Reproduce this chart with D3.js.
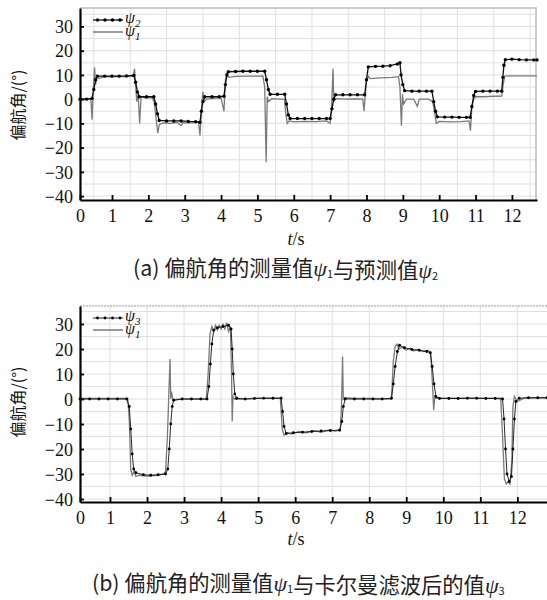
<!DOCTYPE html>
<html>
<head>
<meta charset="utf-8">
<script src="https://cdn.jsdelivr.net/npm/d3@7/dist/d3.min.js"></script>
<style>
  html, body { margin: 0; padding: 0; background: #fff; }
  svg { display: block; }
</style>
</head>
<body>
<script>
// ---- data ----
var yTicks = [-40, -30, -20, -10, 0, 10, 20, 30];
var xTicks = [0, 1, 2, 3, 4, 5, 6, 7, 8, 9, 10, 11, 12];
var SERIF = "'Liberation Serif', 'Times New Roman', Tinos, 'DejaVu Serif', 'Noto Serif', serif";

// (a) predicted psi2, [t, deg]
var psi2Top = [[0.12,0],[0.3,0],[0.45,0.3],[0.5,4],[0.55,8],[0.6,9.5],[0.8,9.5],[1.0,9.5],[1.2,9.5],[1.4,9.6],[1.6,9.8],
    [1.65,7],[1.7,3],[1.75,1],[1.95,1],[2.15,1],[2.2,-2],[2.25,-6],[2.3,-8.8],[2.5,-9],[2.7,-9],[2.9,-9],[3.1,-9.2],[3.3,-9.3],[3.42,-9.5],
    [3.46,-5],[3.5,-1],[3.55,1],[3.75,1],[3.95,1],[4.08,1.2],[4.12,6],[4.16,10],[4.2,11.3],[4.4,11.4],[4.6,11.5],[4.8,11.5],[5.0,11.5],[5.2,11.5],
    [5.25,8],[5.3,4],[5.35,2],[5.55,2],[5.75,2],[5.8,-2],[5.85,-6.5],[5.9,-8],[6.1,-8],[6.3,-8],[6.5,-8],[6.7,-8],[6.9,-8],[7.0,-8],
    [7.05,-4],[7.1,0],[7.15,1.8],[7.35,1.8],[7.55,1.8],[7.75,1.8],[7.95,1.8],[8.0,8],[8.05,13.3],[8.25,13.5],[8.45,13.6],[8.65,13.8],[8.85,14.5],[8.92,15],
    [8.95,10],[9.0,6],[9.05,3.5],[9.25,3.3],[9.45,3.3],[9.65,3.3],[9.8,3.3],[9.85,-1],[9.9,-5],[9.95,-7.3],[10.15,-7.4],[10.35,-7.4],[10.55,-7.5],[10.75,-7.5],[10.85,-7.5],
    [10.9,-3],[10.95,1.5],[11.0,3.2],[11.2,3.3],[11.4,3.3],[11.6,3.3],[11.72,3.3],[11.75,9],[11.78,14],[11.82,16.3],[12.0,16.5],[12.2,16.3],[12.4,16.2],[12.6,16.2],[12.69,16.2]];

// (a) measured psi1
var psi1Top = [[0.12,0],[0.42,0],[0.45,-8.5],[0.48,2],[0.52,13],[0.55,6],[0.58,10],[0.62,8.5],[0.8,9.3],[1.0,9.2],[1.2,9.4],[1.4,9.3],[1.58,9.5],
    [1.62,12.5],[1.65,6],[1.68,-1],[1.72,2],[1.76,-10],[1.8,1],[1.9,0.5],[2.1,0.5],[2.16,-1],[2.22,-9],[2.26,-14],[2.3,-10.5],[2.4,-9.8],[2.6,-10],
    [2.8,-9.6],[2.9,-11],[2.95,-9.7],[3.2,-9.8],[3.38,-9.5],[3.42,-15],[3.46,-4],[3.5,3],[3.53,-1],[3.6,0],[3.8,0.3],[4.0,0.5],[4.08,-5],[4.12,8],
    [4.16,10.5],[4.2,9],[4.4,9.4],[4.7,9.5],[5.0,9.5],[5.15,9.6],[5.2,5],[5.24,-26],[5.27,1],[5.3,-1],[5.4,0.2],[5.6,0],[5.74,0],[5.78,-6],[5.82,-10],
    [5.87,-9],[6.0,-9.4],[6.3,-9.2],[6.6,-9.3],[6.9,-9],[7.0,-10],[7.04,-3],[7.08,12.5],[7.1,-1],[7.14,0.2],[7.4,0],[7.7,0.1],[7.9,0],[7.93,-5],
    [7.97,2],[8.0,7],[8.05,9.5],[8.1,8.5],[8.4,8.8],[8.7,9],[8.88,9.3],[8.92,5],[8.96,-11],[8.99,2],[9.02,-2],[9.1,0],[9.3,0],[9.4,-3],[9.45,0],
    [9.7,0],[9.82,-1],[9.88,-6],[9.92,-10],[10.0,-9.2],[10.3,-9.4],[10.6,-9.3],[10.82,-9],[10.86,-13],[10.9,-3],[10.95,0],[11.0,1],[11.2,1],
    [11.5,1.2],[11.72,1.3],[11.76,6],[11.8,9.5],[12.0,9.6],[12.3,9.6],[12.69,9.6]];

// (b) Kalman filtered psi3
var psi3Bot = [[0.19,0],[0.45,0],[0.7,0],[0.95,0],[1.2,0],[1.45,0],[1.52,-3],[1.56,-12],[1.6,-22],[1.64,-28],[1.7,-29.5],[1.9,-30.3],[2.1,-30.5],
    [2.3,-30.3],[2.5,-30],[2.56,-28],[2.6,-20],[2.64,-10],[2.68,-3],[2.72,-0.5],[2.95,0],[3.2,0],[3.45,0],[3.62,0],[3.67,5],[3.71,14],[3.75,22],
    [3.8,27.5],[3.9,28.5],[4.05,29],[4.2,29.5],[4.27,28],[4.3,20],[4.33,10],[4.37,2],[4.42,0.3],[4.65,0],[4.9,0.2],[5.15,0.3],[5.4,0.3],[5.62,0.3],
    [5.66,-5],[5.7,-11],[5.76,-13.8],[5.95,-13.5],[6.2,-13.3],[6.45,-13],[6.7,-12.8],[6.95,-12.6],[7.2,-12.5],[7.26,-9],[7.3,-3],[7.35,0],[7.6,0],
    [7.85,0],[8.1,0],[8.35,0],[8.6,0.3],[8.65,6],[8.7,13],[8.76,19],[8.82,21.5],[8.95,20.5],[9.15,19.8],[9.35,19.5],[9.55,19],[9.65,18.5],[9.7,13],
    [9.75,6],[9.8,1],[9.9,0.2],[10.15,0.2],[10.4,0.2],[10.65,0.3],[10.9,0.3],[11.15,0.2],[11.4,0.2],[11.6,0],[11.64,-8],[11.68,-20],[11.72,-30],
    [11.78,-33],[11.84,-31],[11.88,-20],[11.92,-8],[11.96,-1],[12.05,0.3],[12.3,0.5],[12.55,0.5],[12.8,0.5]];

// (b) measured psi1
var psi1Bot = [[0.19,0.2],[1.48,0.2],[1.52,-8],[1.56,-28],[1.6,-30.5],[1.65,-29],[1.7,-31],[1.8,-30.5],[2.0,-30.8],[2.3,-30.5],[2.45,-30],
    [2.5,-29],[2.55,-15],[2.58,-2],[2.62,16],[2.64,0],[2.66,3],[2.7,-0.3],[3.0,0],[3.3,0],[3.6,0],[3.65,10],[3.7,26],[3.75,29],[3.8,27],[3.85,29.5],
    [3.9,27.5],[3.95,29.5],[4.0,28],[4.05,30],[4.1,28],[4.15,30.5],[4.2,27],[4.25,29],[4.28,12],[4.3,-9],[4.32,1],[4.36,0],[4.6,0],[5.0,0.3],
    [5.6,0.3],[5.65,-12],[5.7,-14.5],[5.8,-13.5],[5.9,-14],[6.1,-13],[6.3,-13.5],[6.5,-12.7],[6.7,-13.2],[6.9,-12.5],[7.1,-12.8],[7.22,-12],
    [7.25,-3],[7.28,17],[7.3,0],[7.34,0.5],[7.6,0.2],[8.0,0.2],[8.6,0],[8.65,15],[8.7,21],[8.75,22],[8.8,20],[8.9,20.8],[9.0,19.5],[9.1,20.3],
    [9.2,19.2],[9.3,19.8],[9.45,19],[9.6,19.4],[9.66,18],[9.7,8],[9.74,-4.5],[9.77,1],[9.8,0.3],[10.2,0.3],[11.0,0.3],[11.55,0.3],[11.6,-15],
    [11.65,-32],[11.7,-34],[11.75,-33],[11.8,-34],[11.85,-25],[11.88,-3],[11.92,1],[12.0,-1],[12.2,0.4],[12.8,0.5]];

var svg = d3.select("body").append("svg")
            .attr("width", 547)
            .attr("height", 600);

function drawPanel(cfg) {
    var x = d3.scaleLinear().domain(cfg.xDomain).range(cfg.xRange),
        y = d3.scaleLinear().domain(cfg.yDomain).range(cfg.yRange),
        g = svg.append("g");

    // grid
    g.selectAll(".hgrid")
     .data(d3.range(-40, 36, 5))
     .enter().append("line")
     .attr("x1", cfg.xRange[0]).attr("x2", cfg.xRange[1])
     .attr("y1", function(d) { return y(d); })
     .attr("y2", function(d) { return y(d); })
     .style("stroke", "#e0e0e0").style("stroke-width", 1);

    g.selectAll(".vgrid")
     .data(cfg.vGrid)
     .enter().append("line")
     .attr("x1", function(d) { return x(d); })
     .attr("x2", function(d) { return x(d); })
     .attr("y1", cfg.yRange[0]).attr("y2", cfg.yRange[1])
     .style("stroke", "#e0e0e0").style("stroke-width", 1);

    // frame top / right
    g.append("line")
     .attr("x1", cfg.xRange[0]).attr("x2", cfg.xRange[1])
     .attr("y1", cfg.yRange[1]).attr("y2", cfg.yRange[1])
     .style("stroke", "#bbb").style("stroke-width", 1.5)
     .style("stroke-dasharray", cfg.dashedTop ? "2,1" : null);
    if (cfg.rightFrame) {
        g.append("line")
         .attr("x1", cfg.xRange[1] - 1).attr("x2", cfg.xRange[1] - 1)
         .attr("y1", cfg.yRange[0]).attr("y2", cfg.yRange[1])
         .style("stroke", "#bbb").style("stroke-width", 1.5);
    }

    var line = d3.line()
                 .x(function(d) { return x(d[0]); })
                 .y(function(d) { return y(d[1]); });

    g.append("path")
     .datum(cfg.measured)
     .attr("d", line)
     .style("fill", "none")
     .style("stroke", "#7a7a7a")
     .style("stroke-width", 1.3);

    g.append("path")
     .datum(cfg.estimate)
     .attr("d", line)
     .style("fill", "none")
     .style("stroke", "#111")
     .style("stroke-width", cfg.estWidth);

    g.selectAll(".dot")
     .data(cfg.estimate)
     .enter().append("circle")
     .attr("cx", function(d) { return x(d[0]); })
     .attr("cy", function(d) { return y(d[1]); })
     .attr("r", cfg.dotR)
     .style("fill", "#000");

    // axes
    var yAxis = d3.axisLeft(y).tickValues(yTicks).tickSizeInner(-4).tickSizeOuter(0).tickPadding(7);
    var xAxis = d3.axisBottom(x)
                  .tickValues(xTicks.map(function(d) { return d === 0 ? cfg.xDomain[0] : d; }))
                  .tickFormat(function(d) { return d < 1 ? "0" : d; })
                  .tickSizeInner(-5).tickSizeOuter(0).tickPadding(9);

    var ya = g.append("g")
              .attr("transform", "translate(" + cfg.xRange[0] + ",0)")
              .call(yAxis);
    var xa = g.append("g")
              .attr("transform", "translate(0," + cfg.yRange[0] + ")")
              .call(xAxis);
    [ya, xa].forEach(function(a) {
        a.attr("font-family", null).attr("font-size", null);
        a.select(".domain").style("stroke", "#000").style("stroke-width", 2.2);
        a.selectAll(".tick line").style("stroke", "#000").style("stroke-width", 1.8);
        a.selectAll(".tick text")
         .style("font-family", SERIF)
         .style("font-size", "18px")
         .style("fill", "#111");
    });
    ya.selectAll(".tick text").attr("dy", "0.34em");

    // axis titles
    g.append("text")
     .attr("transform", "translate(24," + cfg.yTitleY + ") rotate(-90)")
     .attr("text-anchor", "middle")
     .style("font-family", "'Noto Sans CJK SC', sans-serif")
     .style("font-size", "16px")
     .style("fill", "#111")
     .text("偏航角/(°)");

    var xt = g.append("text")
              .attr("x", 296)
              .attr("y", cfg.xTitleY)
              .attr("text-anchor", "middle")
              .style("font-family", SERIF)
              .style("font-size", "18px")
              .style("fill", "#111");
    xt.append("tspan").style("font-style", "italic").text("t");
    xt.append("tspan").text("/s");

    // legend
    var lx0 = 93, lx1 = 123,
        ly = cfg.yRange[1] + 12;
    g.append("line")
     .attr("x1", lx0).attr("x2", lx1).attr("y1", ly).attr("y2", ly)
     .style("stroke", "#111").style("stroke-width", cfg.estWidth);
    g.selectAll(".ldot")
     .data([0.15, 0.4, 0.65, 0.9])
     .enter().append("circle")
     .attr("cx", function(d) { return lx0 + d * (lx1 - lx0); })
     .attr("cy", ly)
     .attr("r", cfg.dotR)
     .style("fill", "#000");
    g.append("line")
     .attr("x1", lx0).attr("x2", lx1).attr("y1", ly + 12).attr("y2", ly + 12)
     .style("stroke", "#7a7a7a").style("stroke-width", 1.5);

    [[cfg.estSub, ly + 3], ["1", ly + 16]].forEach(function(p) {
        var t = g.append("text")
                 .attr("x", 125)
                 .attr("y", p[1])
                 .style("font-family", SERIF)
                 .style("font-style", "italic")
                 .style("font-size", "16px")
                 .style("fill", "#111");
        t.append("tspan").text("ψ");
        t.append("tspan").attr("dy", 4).style("font-size", "11px").text(p[0]);
    });

    // caption
    var cap = g.append("text")
               .attr("x", cfg.capX)
               .attr("y", cfg.capY)
               .style("font-family", "'Noto Sans CJK SC', sans-serif")
               .style("font-size", "21.3px")
               .style("fill", "#222");
    cfg.caption.forEach(function(part) {
        if (part[0] === "psi") {
            cap.append("tspan")
               .style("font-family", SERIF)
               .style("font-style", "italic")
               .style("font-size", "22px")
               .text("ψ");
            cap.append("tspan")
               .attr("dy", 2)
               .style("font-size", "11px")
               .text(part[1]);
            cap.append("tspan").attr("dy", -2).text("");
        } else {
            cap.append("tspan").text(part[1]);
        }
    });
}

drawPanel({
    xDomain: [0.12, 12.69], xRange: [80, 537],
    yDomain: [-41.6, 37.6], yRange: [200, 8],
    vGrid: d3.range(0.5, 12.6, 1),
    rightFrame: true, dashedTop: false,
    measured: psi1Top, estimate: psi2Top,
    estWidth: 1.3, dotR: 1.7, estSub: "2",
    yTitleY: 105, xTitleY: 245,
    capX: 133, capY: 276,
    caption: [["t", "(a) 偏航角的测量值"], ["psi", "1"], ["t", "与预测值"], ["psi", "2"]]
});

drawPanel({
    xDomain: [0.19, 12.8], xRange: [80, 547],
    yDomain: [-41.2, 37.2], yRange: [502, 306],
    vGrid: d3.range(1, 12.9, 1),
    rightFrame: false, dashedTop: true,
    measured: psi1Bot, estimate: psi3Bot,
    estWidth: 0.9, dotR: 1.4, estSub: "3",
    yTitleY: 402, xTitleY: 545,
    capX: 92, capY: 591,
    caption: [["t", "(b) 偏航角的测量值"], ["psi", "1"], ["t", "与卡尔曼滤波后的值"], ["psi", "3"]]
});
</script>
</body>
</html>
